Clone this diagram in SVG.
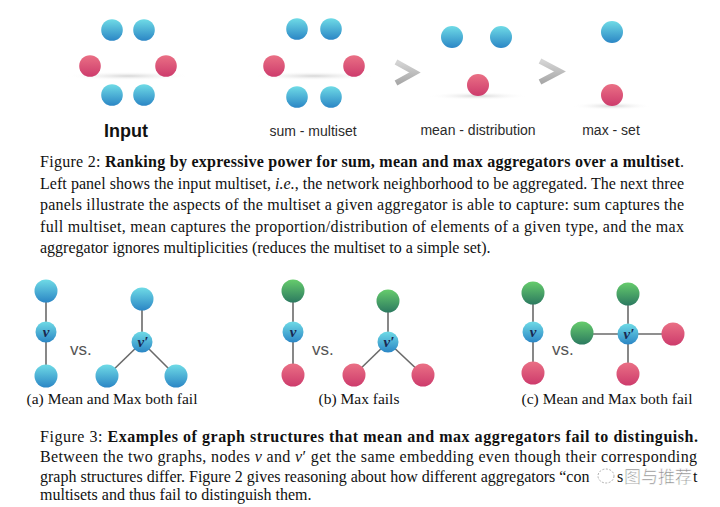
<svg xmlns="http://www.w3.org/2000/svg" width="720" height="507" viewBox="0 0 720 507">
<defs>
  <linearGradient id="gBlue" x1="0" y1="0" x2="0" y2="1">
    <stop offset="0" stop-color="#6fdbe6"/>
    <stop offset="1" stop-color="#2b86c5"/>
  </linearGradient>
  <linearGradient id="gRed" x1="0" y1="0" x2="0" y2="1">
    <stop offset="0" stop-color="#ea7085"/>
    <stop offset="1" stop-color="#cd3b6c"/>
  </linearGradient>
  <linearGradient id="gGreen" x1="0" y1="0" x2="0" y2="1">
    <stop offset="0" stop-color="#66cc6c"/>
    <stop offset="1" stop-color="#2c7a60"/>
  </linearGradient>
  <radialGradient id="gShadow" cx="0.5" cy="0.5" r="0.5">
    <stop offset="0" stop-color="#c4c4c4" stop-opacity="0.7"/>
    <stop offset="1" stop-color="#ffffff" stop-opacity="0"/>
  </radialGradient>
  <linearGradient id="gChev" x1="0" y1="0" x2="0" y2="1">
    <stop offset="0" stop-color="#d4d4d4"/>
    <stop offset="1" stop-color="#a9a9a9"/>
  </linearGradient>
</defs>
<style>
  .blue{fill:url(#gBlue)}
  .red{fill:url(#gRed)}
  .green{fill:url(#gGreen)}
  .shadow{fill:url(#gShadow)}
  .chev{fill:none;stroke:url(#gChev);stroke-width:5.5;stroke-linejoin:miter;stroke-linecap:butt}
  .lbl{font-family:"Liberation Sans",Arial,sans-serif;font-size:14px;fill:#2b2b2b;text-anchor:middle}
  .bold{font-family:"Liberation Sans",Arial,sans-serif;font-size:18px;font-weight:bold;fill:#111;text-anchor:middle}
  .vs{font-family:"Liberation Sans",Arial,sans-serif;font-size:17px;fill:#555}
  .cap{font-family:"Liberation Serif","Times New Roman",serif;font-size:16px;fill:#111}
  .sub{font-family:"Liberation Serif","Times New Roman",serif;font-size:15.5px;fill:#111;text-anchor:middle}
  .b{font-weight:bold}
  .it{font-style:italic}
  .edge{stroke:#6a6a6a;stroke-width:1.6;fill:none}
  .vl{font-family:"Liberation Serif","Times New Roman",serif;font-style:italic;font-weight:bold;font-size:15px;fill:#1a2750;text-anchor:middle}
  .wm{font-family:"Noto Sans CJK SC",sans-serif;font-size:17px;fill:#8a8a8a;stroke:#fff;stroke-width:0.5}
</style>

<!-- Figure 2 top panels -->
<g id="panel-input">
  <ellipse class="shadow" cx="128" cy="76" rx="62" ry="4.5"/>
  <circle class="blue" cx="112" cy="30" r="10.8"/>
  <circle class="blue" cx="144" cy="30" r="10.8"/>
  <circle class="red" cx="90" cy="66" r="10.8"/>
  <circle class="red" cx="166" cy="66" r="10.8"/>
  <circle class="blue" cx="112" cy="95" r="10.8"/>
  <circle class="blue" cx="144" cy="95" r="10.8"/>
  <text class="bold" x="126" y="137">Input</text>
</g>
<g id="panel-sum">
  <ellipse class="shadow" cx="314" cy="76" rx="62" ry="4.5"/>
  <circle class="blue" cx="297" cy="29" r="10.8"/>
  <circle class="blue" cx="331" cy="29" r="10.8"/>
  <circle class="red" cx="274" cy="66" r="10.8"/>
  <circle class="red" cx="354" cy="66" r="10.8"/>
  <circle class="blue" cx="297" cy="97" r="10.8"/>
  <circle class="blue" cx="331" cy="97" r="10.8"/>
  <text class="lbl" x="313" y="136">sum - multiset</text>
</g>
<g id="chevron-1">
  <polyline class="chev" points="396,62 415,72.5 396,83"/>
</g>
<g id="panel-mean">
  <ellipse class="shadow" cx="478" cy="96" rx="50" ry="4"/>
  <circle class="blue" cx="452" cy="37" r="11"/>
  <circle class="blue" cx="501" cy="37" r="11"/>
  <circle class="red" cx="478" cy="85" r="11"/>
  <text class="lbl" x="478" y="135">mean - distribution</text>
</g>
<g id="chevron-2">
  <polyline class="chev" points="540,61 560,71.5 540,82"/>
</g>
<g id="panel-max">
  <ellipse class="shadow" cx="612" cy="106" rx="40" ry="4"/>
  <circle class="blue" cx="612" cy="32" r="11"/>
  <circle class="red" cx="612" cy="95" r="11"/>
  <text class="lbl" x="611" y="135">max - set</text>
</g>

<!-- Figure 2 caption -->
<g id="caption-fig2">
  <text class="cap" x="40" y="167" textLength="644" lengthAdjust="spacing">Figure 2:  <tspan class="b">Ranking by expressive power for sum, mean and max aggregators over a multiset</tspan>.</text>
  <text class="cap" x="40" y="188.5" textLength="644" lengthAdjust="spacing">Left panel shows the input multiset, <tspan class="it">i.e.</tspan>, the network neighborhood to be aggregated. The next three</text>
  <text class="cap" x="40" y="210" textLength="644" lengthAdjust="spacing">panels illustrate the aspects of the multiset a given aggregator is able to capture: sum captures the</text>
  <text class="cap" x="40" y="231.5" textLength="644" lengthAdjust="spacing">full multiset, mean captures the proportion/distribution of elements of a given type, and the max</text>
  <text class="cap" x="40" y="253">aggregator ignores multiplicities (reduces the multiset to a simple set).</text>
</g>

<!-- Figure 3 connectors -->
<g id="connectors">
  <line class="edge" x1="46" y1="291" x2="46" y2="376"/>
  <line class="edge" x1="142" y1="299" x2="142" y2="342"/>
  <line class="edge" x1="142" y1="342" x2="107" y2="376"/>
  <line class="edge" x1="142" y1="342" x2="176" y2="376"/>
  <line class="edge" x1="293" y1="291" x2="293" y2="375"/>
  <line class="edge" x1="388" y1="301" x2="388" y2="342"/>
  <line class="edge" x1="388" y1="342" x2="354" y2="375"/>
  <line class="edge" x1="388" y1="342" x2="423" y2="375"/>
  <line class="edge" x1="533" y1="293" x2="533" y2="373"/>
  <line class="edge" x1="628" y1="294" x2="628" y2="374"/>
  <line class="edge" x1="582" y1="334" x2="673" y2="334"/>
</g>

<!-- (a) -->
<g id="a-top"><circle class="blue" cx="46" cy="291" r="11.5"/></g>
<g id="a-v"><circle class="blue" cx="46" cy="332" r="10.5"/><text class="vl" x="46" y="337">v</text></g>
<g id="a-bottom"><circle class="blue" cx="46" cy="376" r="11.5"/></g>
<text class="vs" x="70" y="355">vs.</text>
<g id="a2-top"><circle class="blue" cx="142" cy="299" r="11.5"/></g>
<g id="a2-v"><circle class="blue" cx="142" cy="342" r="10.5"/><text class="vl" x="143" y="347">v′</text></g>
<g id="a2-left"><circle class="blue" cx="107" cy="376" r="11.5"/></g>
<g id="a2-right"><circle class="blue" cx="176" cy="376" r="11.5"/></g>
<text class="sub" x="112" y="404">(a) Mean and Max both fail</text>

<!-- (b) -->
<g id="b-top"><circle class="green" cx="293" cy="291" r="11.5"/></g>
<g id="b-v"><circle class="blue" cx="293" cy="332" r="10.5"/><text class="vl" x="293" y="337">v</text></g>
<g id="b-bottom"><circle class="red" cx="293" cy="375" r="11.5"/></g>
<text class="vs" x="312" y="355">vs.</text>
<g id="b2-top"><circle class="green" cx="388" cy="301" r="11.5"/></g>
<g id="b2-v"><circle class="blue" cx="388" cy="342" r="10.5"/><text class="vl" x="389" y="347">v′</text></g>
<g id="b2-left"><circle class="red" cx="354" cy="375" r="11.5"/></g>
<g id="b2-right"><circle class="red" cx="423" cy="375" r="11.5"/></g>
<text class="sub" x="359" y="404">(b) Max fails</text>

<!-- (c) -->
<g id="c-top"><circle class="green" cx="533" cy="293" r="11.5"/></g>
<g id="c-v"><circle class="blue" cx="533" cy="332" r="10.5"/><text class="vl" x="533" y="337">v</text></g>
<g id="c-bottom"><circle class="red" cx="533" cy="373" r="11.5"/></g>
<text class="vs" x="552" y="355">vs.</text>
<g id="c2-top"><circle class="green" cx="628" cy="294" r="11.5"/></g>
<g id="c2-left"><circle class="green" cx="582" cy="333" r="11.5"/></g>
<g id="c2-right"><circle class="red" cx="673" cy="334" r="11.5"/></g>
<g id="c2-bottom"><circle class="red" cx="628" cy="374" r="11.5"/></g>
<g id="c2-v"><circle class="blue" cx="628" cy="334" r="10.5"/><text class="vl" x="629" y="339">v′</text></g>
<text class="sub" x="607" y="404">(c) Mean and Max both fail</text>

<!-- Figure 3 caption -->
<g id="caption-fig3">
  <text class="cap" x="40" y="442" textLength="658" lengthAdjust="spacing">Figure 3:  <tspan class="b">Examples of graph structures that mean and max aggregators fail to distinguish.</tspan></text>
  <text class="cap" x="40" y="462" textLength="657" lengthAdjust="spacing">Between the two graphs, nodes <tspan class="it">v</tspan> and <tspan class="it">v</tspan>′ get the same embedding even though their corresponding</text>
  <text class="cap" x="40" y="482">graph structures differ. Figure 2 gives reasoning about how different aggregators “con</text>
  <text class="cap" x="617" y="482">s</text>
  <text class="cap" x="693" y="482">t</text>
  <text class="cap" x="40" y="500">multisets and thus fail to distinguish them.</text>
  <g id="watermark">
    <ellipse cx="606" cy="476" rx="8" ry="7" fill="none" stroke="#999" stroke-width="0.8" stroke-dasharray="2 1.5"/>
    <text class="wm" x="624" y="483">图与推荐</text>
  </g>
</g>
</svg>
